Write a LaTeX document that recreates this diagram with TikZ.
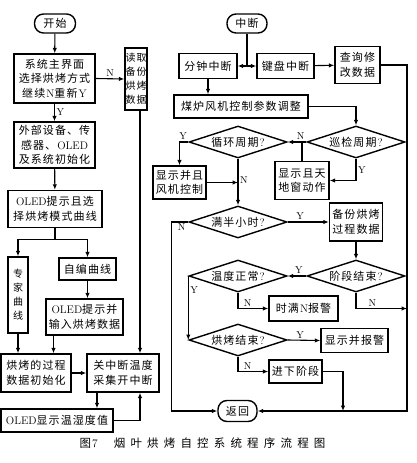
\documentclass[tikz,border=0pt]{standalone}
\usepackage{fontspec}
\newfontfamily\cjk[LetterSpace=10]{Noto Sans CJK SC}
\usetikzlibrary{arrows.meta}
\usetikzlibrary{shapes.geometric}

\begin{document}
\begin{tikzpicture}[x=1pt,y=-1pt,
    box/.style={draw, line width=1.4pt, align=center, inner sep=1pt,
        font=\cjk\fontsize{11}{14.5}\selectfont},
    term/.style={box, rounded corners=9pt},
    cond/.style={box, diamond, aspect=3, inner sep=0pt,
        minimum width=98pt, minimum height=32pt},
    narrow/.style={box, inner xsep=0pt, font=\cjk\fontsize{10}{14}\selectfont},
    arr/.style={-{Latex[length=5.5pt,width=4.5pt]}, line width=1.1pt},
    yn/.style={font=\fontsize{10}{12}\selectfont, inner sep=1.5pt}]

    \useasboundingbox (0,0) rectangle (417,463);

    % left column
    \node[term, minimum width=41pt, minimum height=19pt] (start) at (55,23.5) {开始};
    \node[box, minimum width=81pt, minimum height=49pt] (mainmenu) at (54.5,78.5)
        {系统主界面\\选择烘烤方式\\继续\textrm{N}重新\textrm{Y}};
    \node[narrow, minimum width=22pt, minimum height=62pt] (readbak) at (136,79)
        {读取\\备份\\烘烤\\数据};
    \node[box, minimum width=81pt, minimum height=46pt] (init) at (54.5,145)
        {外部设备、传\\感器、\textrm{OLED}\\及系统初始化};
    \node[box, minimum width=94pt, minimum height=37pt] (oledsel) at (55,209)
        {\textrm{OLED}提示且选\\择烘烤模式曲线};
    \node[narrow, minimum width=20pt, minimum height=76pt] (expert) at (18,295)
        {专\\家\\曲\\线};
    \node[box, minimum width=57pt, minimum height=22pt] (custom) at (87.5,269) {自编曲线};
    \node[box, minimum width=77pt, minimum height=36pt] (oledin) at (84.5,317)
        {\textrm{OLED}提示并\\输入烘烤数据};
    \node[box, minimum width=70pt, minimum height=38pt] (datainit) at (36,373)
        {烘烤的过程\\数据初始化};
    \node[box, minimum width=72pt, minimum height=38pt] (intoff) at (123,373)
        {关中断温度\\采集开中断};
    \node[box, minimum width=112pt, minimum height=23pt] (oledshow) at (57,420.5)
        {\textrm{OLED}显示温湿度值};

    % right column
    \node[term, minimum width=40pt, minimum height=19pt] (intr) at (247,23.5) {中断};
    \node[box, minimum width=58pt, minimum height=25pt] (minint) at (208,66) {分钟中断};
    \node[box, minimum width=57pt, minimum height=25pt] (keyint) at (285.5,66) {键盘中断};
    \node[box, minimum width=45pt, minimum height=37pt] (query) at (357.5,65)
        {查询修\\改数据};
    \node[box, minimum width=134pt, minimum height=23pt] (adjust) at (241,106.5)
        {煤炉风机控制参数调整};
    \node[cond] (patrol) at (356,142) {巡检周期\textrm{?}};
    \node[cond] (cycle) at (238,142) {循环周期\textrm{?}};
    \node[box, minimum width=53pt, minimum height=33pt] (fanctl) at (179.5,182.5)
        {显示并且\\风机控制};
    \node[box, minimum width=54pt, minimum height=38pt] (window) at (302,180.5)
        {显示且天\\地窗动作};
    \node[cond] (halfhr) at (238,222) {满半小时\textrm{?}};
    \node[box, minimum width=53pt, minimum height=38pt] (backup) at (356,222)
        {备份烘烤\\过程数据};
    \node[cond] (stage) at (356,276) {阶段结束\textrm{?}};
    \node[cond] (tempok) at (238,276) {温度正常\textrm{?}};
    \node[box, minimum width=69pt, minimum height=25pt] (timeout) at (303.5,308.5)
        {时满\textrm{N}报警};
    \node[cond] (bakeend) at (238,340) {烘烤结束\textrm{?}};
    \node[box, minimum width=67pt, minimum height=24pt] (alarm) at (354.5,340.5) {显示并报警};
    \node[box, minimum width=53pt, minimum height=23pt] (next) at (295.5,371.5) {进下阶段};
    \node[term, minimum width=39pt, minimum height=21pt] (ret) at (237.5,411) {返回};

    \coordinate (rail) at (407,411);
    \coordinate (merge) at (343,411);

    % caption
    \node[font=\cjk\fontsize{11.5}{14}\selectfont] (caption) at (202.5,443)
        {图\textrm{7}\hspace{16pt}\addfontfeature{LetterSpace=45}烟叶烘烤自控系统程序流程图};

    % left connectors
    \draw[arr] (start) -- (mainmenu);
    \draw[arr] (mainmenu.east) -- node[yn, above] {N} (readbak.west);
    \draw[arr] (mainmenu) -- node[yn, right] {Y} (init);
    \draw[arr] (init) -- (oledsel);
    \draw[arr] (oledsel.south) -- ++(0,11) -| (expert.north);
    \draw[arr] (oledsel.south) -- ++(0,11) -| (custom.north);
    \draw[arr] (custom.south) -- (custom.south |- oledin.north);
    \draw[arr] (expert.south) -- (expert.south |- datainit.north);
    \draw[arr] ([xshift=-31pt]oledin.south) -- ([xshift=-31pt]oledin.south |- datainit.north);
    \draw[arr] (datainit) -- (intoff);
    \draw[arr] ([xshift=4pt]readbak.south) -- ([xshift=4pt]readbak.south |- intoff.north);
    \draw[arr] ([xshift=-26pt]intoff.south) -- ([xshift=-26pt]intoff.south |- oledshow.north);
    \draw[arr] (oledshow.east) -| ([xshift=17pt]intoff.south);

    % right connectors
    \draw[line width=1.1pt] (intr.south) -- (intr.south |- minint.east) coordinate (fork);
    \draw[arr] (fork) -- (minint.east);
    \draw[arr] (fork) -- (keyint.west);
    \draw[arr] (keyint) -- (query);
    \draw[arr] (query.east) -| (rail) -- (ret.east);
    \draw[arr] (minint.south) -- (minint.south |- adjust.north);
    \draw[arr] (adjust.east) -| (patrol.north);
    \draw[arr] (patrol.west) -- node[yn, above, pos=0.3] {N} (cycle.east);
    \draw[line width=1.1pt] (window.north) -- (window.north |- patrol.west);
    \draw[arr] (patrol.south) |- node[yn, right, pos=0.25] {Y} (window.east);
    \draw[arr] (cycle.west) -| node[yn, above, pos=0.3] {Y} (fanctl.north);
    \draw[arr] (cycle.south) -- node[yn, right, pos=0.45] {N} (halfhr.north);
    \draw[arr] (fanctl.east) -- (fanctl.east -| cycle.south);
    \draw[arr] (halfhr.east) -- node[yn, above, pos=0.3] {Y} (backup.west);
    \draw[arr] (halfhr.west) -- node[yn, below, pos=0.4] {N} ++(-17,0) |- (ret.west);
    \draw[arr] (backup) -- (stage);
    \draw[arr] (stage.west) -- node[yn, above, pos=0.4] {Y} (tempok.east);
    \draw[arr] (stage.south) |- node[yn, above, pos=0.66] {N} (timeout.west -| rail);
    \draw[arr] (tempok.south) |- node[yn, above, pos=0.66] {N} (timeout.west);
    \draw[arr] (tempok.west) -- node[yn, right, pos=0.22] {Y} (bakeend.west);
    \draw[arr] (bakeend.east) -- node[yn, above, pos=0.38] {Y} (alarm.west);
    \draw[arr] (bakeend.south) |- node[yn, above, pos=0.66] {N} (next.west);
    \draw[arr] (next.east) -| (merge);
\end{tikzpicture}
\end{document}
